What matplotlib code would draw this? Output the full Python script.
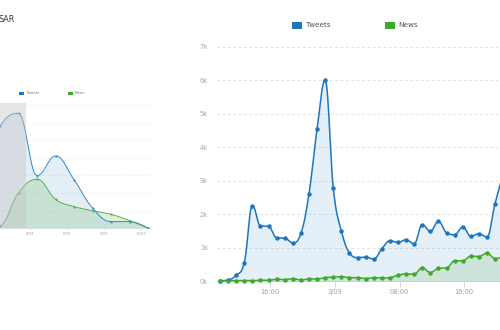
import matplotlib

matplotlib.use('Agg')

import matplotlib.pyplot as plt
import numpy as np
from matplotlib.patches import Rectangle

plt.rcParams['font.family'] = ['DejaVu Sans']

# hourly counts, first point 2/09 ~09:48 (last one runs off the right edge)
start_hour = 9.8
tweets = [10, 40, 180, 550, 2260, 1660, 1640, 1300, 1290, 1150, 1430, 2610,
          4540, 6000, 2790, 1510, 850, 710, 720, 660, 970, 1210, 1160, 1240,
          1120, 1690, 1490, 1790, 1450, 1390, 1620, 1340, 1420, 1320, 2320, 3200]
news = [20, 20, 20, 20, 20, 30, 30, 60, 50, 80, 40, 70,
        70, 110, 120, 140, 110, 110, 80, 110, 100, 110, 180, 220,
        210, 410, 260, 390, 400, 610, 610, 750, 740, 840, 680, 730]
tick_hours = [16, 24, 32, 40]
tick_labels = ['16:00', '3/09', '08:00', '16:00']
y_ticks = [0, 1000, 2000, 3000, 4000, 5000, 6000, 7000]
y_labels = ['0k', '1k', '2k', '3k', '4k', '5k', '6k', '7k']

# small overview chart on the left, daily points
overview_start_day = 1.38
overview_tweets = [3.5, 5.8, 6.52, 2.99, 4.1, 2.74, 1.13, 0.38, 0.38, 0.0]
overview_news = [0.0, 0.13, 2.02, 2.78, 1.64, 1.23, 1.0, 0.79, 0.43, 0.0]
overview_ticks = [4, 6, 8, 10]
overview_labels = ['4/09', '6/09', '8/09', '10/09']
selected_until = 3.78

BLUE = '#1b76c0'
GREEN = '#3fa92c'
W, H = 500, 330


def fig_rect(left, top, right, bottom):
    # pixel box -> figure fraction
    return [left / W, 1 - bottom / H, (right - left) / W, (bottom - top) / H]


def spline(xs, ys, steps=24):
    # highcharts style areaspline: bezier with control points, no false extremes
    smooth = 1.5
    n = len(xs)
    left = [(xs[i], ys[i]) for i in range(n)]
    right = [(xs[i], ys[i]) for i in range(n)]
    for i in range(1, n - 1):
        px, py = xs[i], ys[i]
        lx, ly = xs[i - 1], ys[i - 1]
        nx, ny = xs[i + 1], ys[i + 1]
        lcx = (smooth * px + lx) / (smooth + 1)
        lcy = (smooth * py + ly) / (smooth + 1)
        rcx = (smooth * px + nx) / (smooth + 1)
        rcy = (smooth * py + ny) / (smooth + 1)
        corr = (rcy - lcy) * (rcx - px) / (rcx - lcx) + py - rcy
        lcy += corr
        rcy += corr
        if lcy > ly and lcy > py:
            lcy = max(ly, py)
            rcy = 2 * py - lcy
        elif lcy < ly and lcy < py:
            lcy = min(ly, py)
            rcy = 2 * py - lcy
        if rcy > ny and rcy > py:
            rcy = max(ny, py)
            lcy = 2 * py - rcy
        elif rcy < ny and rcy < py:
            rcy = min(ny, py)
            lcy = 2 * py - rcy
        left[i] = (lcx, lcy)
        right[i] = (rcx, rcy)
    t = np.linspace(0, 1, steps)
    out_x, out_y = [xs[0]], [ys[0]]
    for i in range(1, n):
        p0, p1, p2, p3 = (xs[i - 1], ys[i - 1]), right[i - 1], left[i], (xs[i], ys[i])
        a, b, c, d = (1 - t) ** 3, 3 * (1 - t) ** 2 * t, 3 * (1 - t) * t ** 2, t ** 3
        out_x.extend((a * p0[0] + b * p1[0] + c * p2[0] + d * p3[0])[1:])
        out_y.extend((a * p0[1] + b * p1[1] + c * p2[1] + d * p3[1])[1:])
    return np.array(out_x), np.array(out_y)


fig = plt.figure(figsize=(5, 3.3), dpi=100)

# ---- main chart ----
px_hour = 8.09
px_k = 33.51
ax = fig.add_axes(fig_rect(217, 281.3 - 7.05 * px_k, 620, 281.3))
hours = start_hour + np.arange(len(tweets))
ax.set_xlim(start_hour - 3 / px_hour, start_hour + 400 / px_hour)
ax.set_ylim(0, 7050)

for values, color, alpha in [(tweets, BLUE, 0.11), (news, GREEN, 0.15)]:
    sx, sy = spline(hours, values)
    ax.fill_between(sx, 0, sy, color=color, alpha=alpha, lw=0)
    ax.plot(sx, sy, color=color, lw=1.1, clip_on=False, zorder=3)
    ax.plot(hours, values, 'o', color=color, ms=3.2, mew=0, clip_on=False, zorder=4)

ax.set_yticks(y_ticks)
ax.set_yticklabels(y_labels)
ax.set_xticks(tick_hours)
ax.set_xticklabels(tick_labels)
ax.grid(axis='y', color='#e2e2e2', lw=0.7, ls=(0, (3, 2.5)))
ax.set_axisbelow(True)
for side in ['top', 'right', 'left']:
    ax.spines[side].set_visible(False)
ax.spines['bottom'].set_color('#c0d0e0')
ax.spines['bottom'].set_linewidth(0.7)
ax.tick_params(axis='y', length=0, pad=6.5, labelsize=4.8, labelcolor='#a8a8a8')
ax.tick_params(axis='x', length=4, width=0.6, color='#c0d0e0', pad=1.5,
               labelsize=4.8, labelcolor='#a0a0a0')

# legend
for x0, label, color in [(292, 'Tweets', BLUE), (385, 'News', GREEN)]:
    fig.add_artist(Rectangle((x0 / W, 1 - 28.5 / H), 10 / W, 6.5 / H,
                             transform=fig.transFigure, color=color, lw=0))
    fig.text((x0 + 13.5) / W, 1 - 25.3 / H, label, fontsize=5.2, color='#555555',
             ha='left', va='center')

# ---- overview chart ----
px_day = 18.55
px_u = 17.63
ov = fig.add_axes(fig_rect(-20, 228.3 - 7.1 * px_u, 151, 228.3))
days = overview_start_day + np.arange(len(overview_tweets))
ov.set_xlim(overview_start_day + 1 - 20 / px_day, overview_start_day + 1 + 151 / px_day)
ov.set_ylim(0, 7.1)
ov.axvspan(0, selected_until, color='#c4c4c4', alpha=0.42, lw=0, zorder=5)

for values, color, alpha in [(overview_tweets, BLUE, 0.12), (overview_news, GREEN, 0.17)]:
    sx, sy = spline(days, values)
    ov.fill_between(sx, 0, sy, color=color, alpha=alpha, lw=0)
    ov.plot(sx, sy, color=color, lw=0.7, alpha=0.85, zorder=3)
    ov.plot(days, values, 's', color=color, ms=1.3, mew=0, alpha=0.85, zorder=4)

ov.set_yticks(range(1, 8))
ov.set_yticklabels([])
ov.set_xticks(overview_ticks)
ov.set_xticklabels(overview_labels)
ov.grid(axis='y', color='#e8e8e8', lw=0.5, ls=(0, (1, 1.5)))
ov.set_axisbelow(True)
for side in ['top', 'right', 'left']:
    ov.spines[side].set_visible(False)
ov.spines['bottom'].set_color('#d8dfe6')
ov.spines['bottom'].set_linewidth(0.5)
ov.tick_params(axis='y', length=0)
ov.tick_params(axis='x', length=1.5, width=0.4, color='#d0d8e0', pad=1.2,
               labelsize=2.7, labelcolor='#a8a8a8')

for x0, label, color in [(19, 'Tweets', BLUE), (68, 'News', GREEN)]:
    fig.add_artist(Rectangle((x0 / W, 1 - 95 / H), 5 / W, 3.5 / H,
                             transform=fig.transFigure, color=color, lw=0))
    fig.text((x0 + 7) / W, 1 - 93.3 / H, label, fontsize=2.8, color='#777777',
             ha='left', va='center')

fig.text(15 / W, 1 - 20 / H, 'SAR', fontsize=5.8, color='#333333', ha='right', va='center')

fig.savefig('out.png', dpi=100)
